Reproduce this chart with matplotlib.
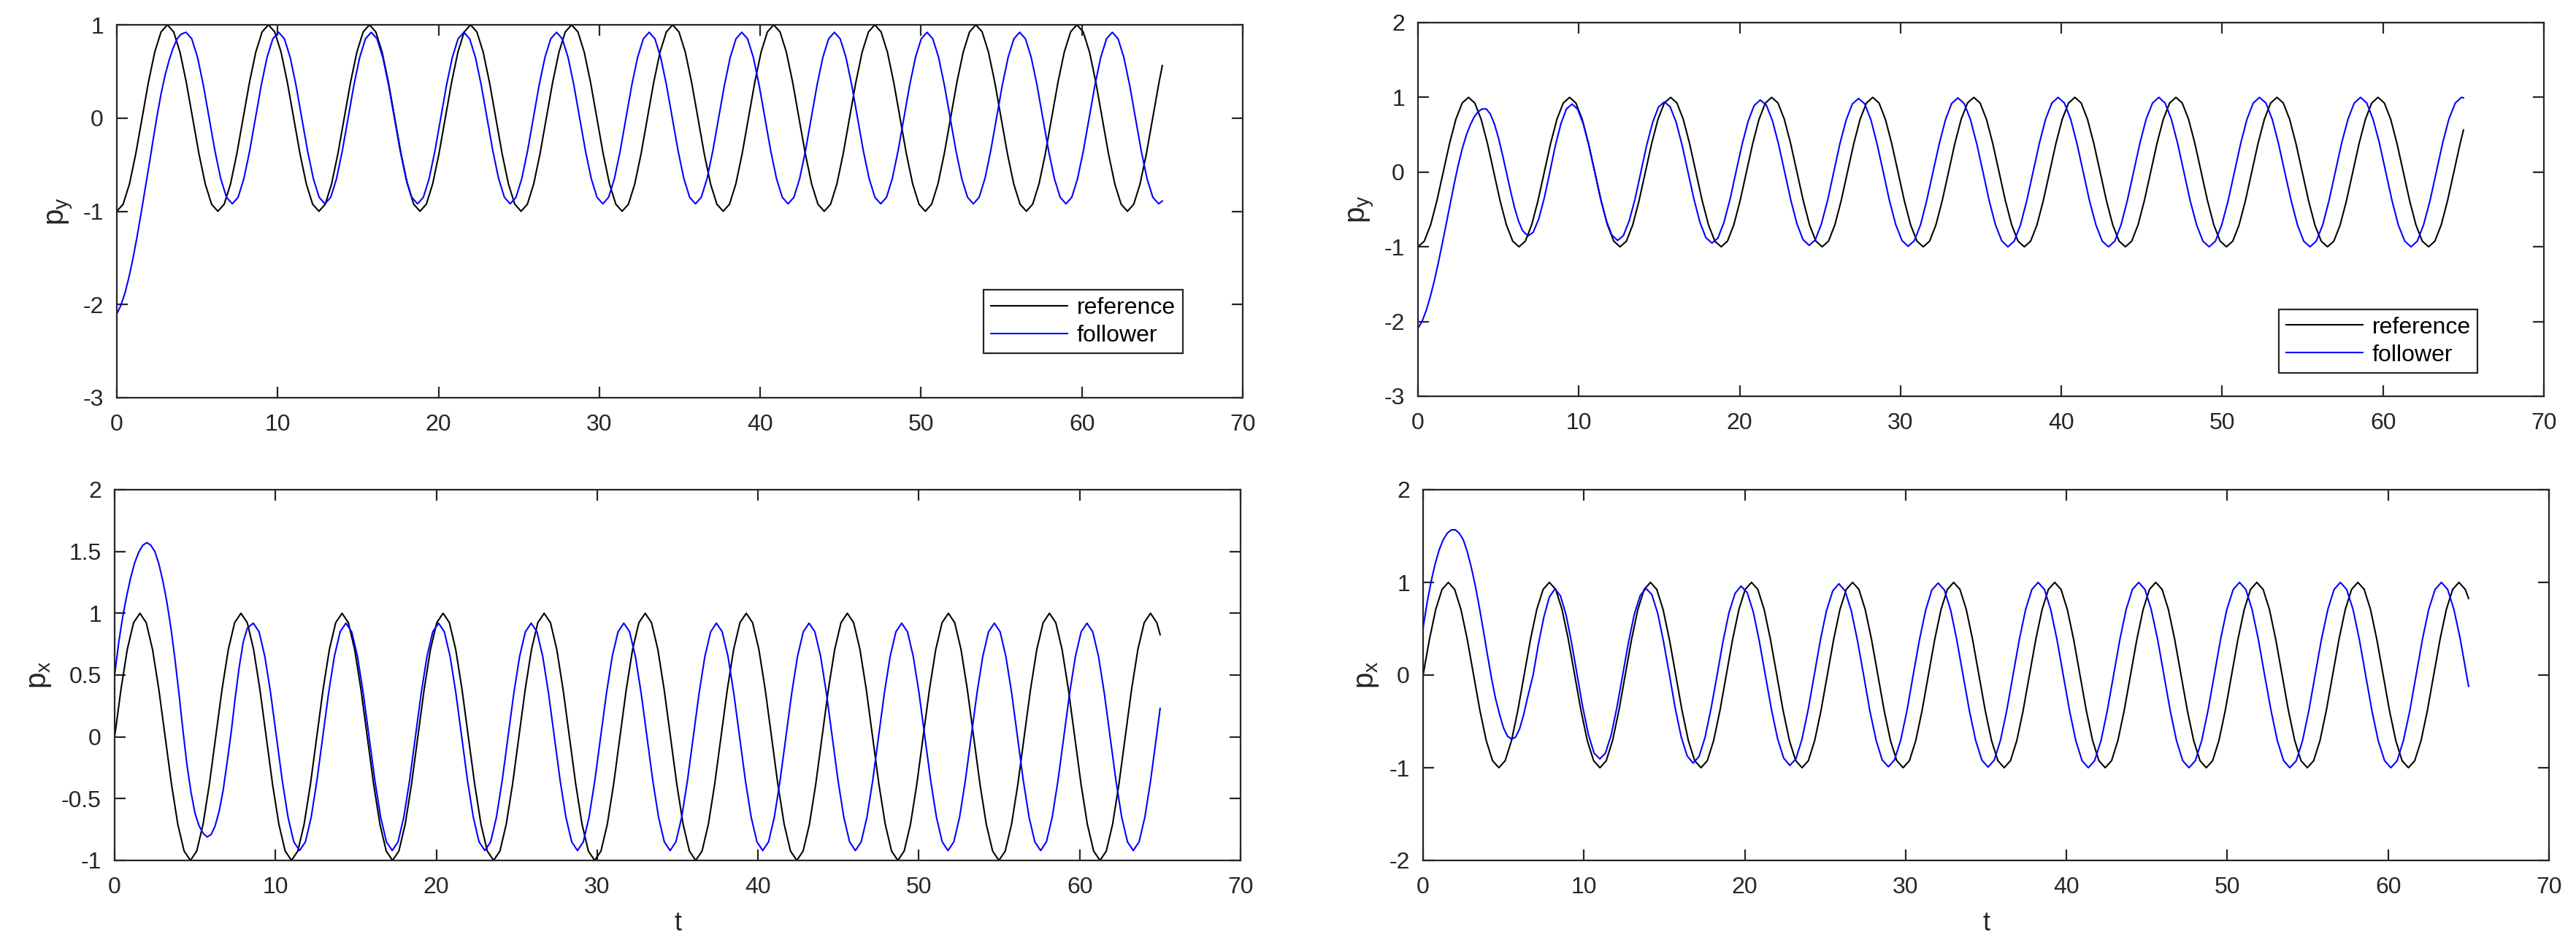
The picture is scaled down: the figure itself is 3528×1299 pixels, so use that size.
import numpy as np
import matplotlib
matplotlib.use("Agg")
import matplotlib.pyplot as plt

# ---------------------------------------------------------------------------
# Data
# ---------------------------------------------------------------------------
T_END = 65.0

# reference signal, sampled every 22.5 deg of phase (pi/8 in t), last entry at T_END
REF_STEP = np.pi / 8
py_ref = [
    -1, -0.924, -0.707, -0.383, 0, 0.383, 0.707, 0.924, 1, 0.924, 0.707, 0.383, 0, -0.383, -0.707, -0.924,
    -1, -0.924, -0.707, -0.383, 0, 0.383, 0.707, 0.924, 1, 0.924, 0.707, 0.383, 0, -0.383, -0.707, -0.924,
    -1, -0.924, -0.707, -0.383, 0, 0.383, 0.707, 0.924, 1, 0.924, 0.707, 0.383, 0, -0.383, -0.707, -0.924,
    -1, -0.924, -0.707, -0.383, 0, 0.383, 0.707, 0.924, 1, 0.924, 0.707, 0.383, 0, -0.383, -0.707, -0.924,
    -1, -0.924, -0.707, -0.383, 0, 0.383, 0.707, 0.924, 1, 0.924, 0.707, 0.383, 0, -0.383, -0.707, -0.924,
    -1, -0.924, -0.707, -0.383, 0, 0.383, 0.707, 0.924, 1, 0.924, 0.707, 0.383, 0, -0.383, -0.707, -0.924,
    -1, -0.924, -0.707, -0.383, 0, 0.383, 0.707, 0.924, 1, 0.924, 0.707, 0.383, 0, -0.383, -0.707, -0.924,
    -1, -0.924, -0.707, -0.383, 0, 0.383, 0.707, 0.924, 1, 0.924, 0.707, 0.383, 0, -0.383, -0.707, -0.924,
    -1, -0.924, -0.707, -0.383, 0, 0.383, 0.707, 0.924, 1, 0.924, 0.707, 0.383, 0, -0.383, -0.707, -0.924,
    -1, -0.924, -0.707, -0.383, 0, 0.383, 0.707, 0.924, 1, 0.924, 0.707, 0.383, 0, -0.383, -0.707, -0.924,
    -1, -0.924, -0.707, -0.383, 0, 0.383,
    0.562,
]
px_ref = [
    0, 0.383, 0.707, 0.924, 1, 0.924, 0.707, 0.383, 0, -0.383, -0.707, -0.924, -1, -0.924, -0.707, -0.383,
    0, 0.383, 0.707, 0.924, 1, 0.924, 0.707, 0.383, 0, -0.383, -0.707, -0.924, -1, -0.924, -0.707, -0.383,
    0, 0.383, 0.707, 0.924, 1, 0.924, 0.707, 0.383, 0, -0.383, -0.707, -0.924, -1, -0.924, -0.707, -0.383,
    0, 0.383, 0.707, 0.924, 1, 0.924, 0.707, 0.383, 0, -0.383, -0.707, -0.924, -1, -0.924, -0.707, -0.383,
    0, 0.383, 0.707, 0.924, 1, 0.924, 0.707, 0.383, 0, -0.383, -0.707, -0.924, -1, -0.924, -0.707, -0.383,
    0, 0.383, 0.707, 0.924, 1, 0.924, 0.707, 0.383, 0, -0.383, -0.707, -0.924, -1, -0.924, -0.707, -0.383,
    0, 0.383, 0.707, 0.924, 1, 0.924, 0.707, 0.383, 0, -0.383, -0.707, -0.924, -1, -0.924, -0.707, -0.383,
    0, 0.383, 0.707, 0.924, 1, 0.924, 0.707, 0.383, 0, -0.383, -0.707, -0.924, -1, -0.924, -0.707, -0.383,
    0, 0.383, 0.707, 0.924, 1, 0.924, 0.707, 0.383, 0, -0.383, -0.707, -0.924, -1, -0.924, -0.707, -0.383,
    0, 0.383, 0.707, 0.924, 1, 0.924, 0.707, 0.383, 0, -0.383, -0.707, -0.924, -1, -0.924, -0.707, -0.383,
    0, 0.383, 0.707, 0.924, 1, 0.924,
    0.827,
]

# start-up part of the followers, read every 0.25 in t from t = 0
TRANS_STEP = 0.25
py_left_transient = [
    -2.10, -2.01, -1.88, -1.71, -1.51, -1.28, -1.03, -0.77, -0.51, -0.24, 0.02, 0.26,
    0.46, 0.62, 0.75, 0.85, 0.90,
]
px_left_transient = [
    0.50, 0.76, 0.97, 1.14, 1.29, 1.41, 1.495, 1.55, 1.572, 1.55, 1.50, 1.40, 1.26, 1.09,
    0.88, 0.63, 0.35, 0.05, -0.23, -0.45, -0.62, -0.72, -0.78, -0.81, -0.79, -0.72, -0.60,
    -0.43, -0.20, 0.04, 0.32, 0.57, 0.77, 0.88,
]
py_right_transient = [
    -2.09, -2.00, -1.86, -1.68, -1.47, -1.23, -0.97, -0.70, -0.43, -0.16, 0.09, 0.31,
    0.49, 0.63, 0.74, 0.81, 0.845, 0.845, 0.776, 0.645, 0.461, 0.238, -0.006, -0.248,
    -0.472, -0.654, -0.783,
]
px_right_transient = [
    0.51, 0.78, 1.01, 1.20, 1.35, 1.46, 1.53, 1.565, 1.568, 1.53, 1.46, 1.33, 1.16, 0.96,
    0.73, 0.48, 0.22, -0.03, -0.25, -0.42, -0.57, -0.66, -0.69, -0.67, -0.58, -0.43, -0.24,
]

# left follower after start-up: sampled every 22.5 deg of its own phase (period 5.76),
# last entry at T_END
LEFT_STEP = 0.35994
py_left_t0 = 4.30
px_left_t0 = 8.62
py_left_steady = [
    0.92, 0.85, 0.65, 0.352, 0, -0.352, -0.65, -0.85, -0.92, -0.85, -0.65, -0.352, 0, 0.352, 0.65, 0.85,
    0.92, 0.85, 0.65, 0.352, 0, -0.352, -0.65, -0.85, -0.92, -0.85, -0.65, -0.352, 0, 0.352, 0.65, 0.85,
    0.92, 0.85, 0.65, 0.352, 0, -0.352, -0.65, -0.85, -0.92, -0.85, -0.65, -0.352, 0, 0.352, 0.65, 0.85,
    0.92, 0.85, 0.65, 0.352, 0, -0.352, -0.65, -0.85, -0.92, -0.85, -0.65, -0.352, 0, 0.352, 0.65, 0.85,
    0.92, 0.85, 0.65, 0.352, 0, -0.352, -0.65, -0.85, -0.92, -0.85, -0.65, -0.352, 0, 0.352, 0.65, 0.85,
    0.92, 0.85, 0.65, 0.352, 0, -0.352, -0.65, -0.85, -0.92, -0.85, -0.65, -0.352, 0, 0.352, 0.65, 0.85,
    0.92, 0.85, 0.65, 0.352, 0, -0.352, -0.65, -0.85, -0.92, -0.85, -0.65, -0.352, 0, 0.352, 0.65, 0.85,
    0.92, 0.85, 0.65, 0.352, 0, -0.352, -0.65, -0.85, -0.92, -0.85, -0.65, -0.352, 0, 0.352, 0.65, 0.85,
    0.92, 0.85, 0.65, 0.352, 0, -0.352, -0.65, -0.85, -0.92, -0.85, -0.65, -0.352, 0, 0.352, 0.65, 0.85,
    0.92, 0.85, 0.65, 0.352, 0, -0.352, -0.65, -0.85, -0.92, -0.85, -0.65, -0.352, 0, 0.352, 0.65, 0.85,
    0.92, 0.85, 0.65, 0.352, 0, -0.352, -0.65, -0.85, -0.92,
    -0.89,
]
px_left_steady = [
    0.92, 0.85, 0.65, 0.352, 0, -0.352, -0.65, -0.85, -0.92, -0.85, -0.65, -0.352, 0, 0.352, 0.65, 0.85,
    0.92, 0.85, 0.65, 0.352, 0, -0.352, -0.65, -0.85, -0.92, -0.85, -0.65, -0.352, 0, 0.352, 0.65, 0.85,
    0.92, 0.85, 0.65, 0.352, 0, -0.352, -0.65, -0.85, -0.92, -0.85, -0.65, -0.352, 0, 0.352, 0.65, 0.85,
    0.92, 0.85, 0.65, 0.352, 0, -0.352, -0.65, -0.85, -0.92, -0.85, -0.65, -0.352, 0, 0.352, 0.65, 0.85,
    0.92, 0.85, 0.65, 0.352, 0, -0.352, -0.65, -0.85, -0.92, -0.85, -0.65, -0.352, 0, 0.352, 0.65, 0.85,
    0.92, 0.85, 0.65, 0.352, 0, -0.352, -0.65, -0.85, -0.92, -0.85, -0.65, -0.352, 0, 0.352, 0.65, 0.85,
    0.92, 0.85, 0.65, 0.352, 0, -0.352, -0.65, -0.85, -0.92, -0.85, -0.65, -0.352, 0, 0.352, 0.65, 0.85,
    0.92, 0.85, 0.65, 0.352, 0, -0.352, -0.65, -0.85, -0.92, -0.85, -0.65, -0.352, 0, 0.352, 0.65, 0.85,
    0.92, 0.85, 0.65, 0.352, 0, -0.352, -0.65, -0.85, -0.92, -0.85, -0.65, -0.352, 0, 0.352, 0.65, 0.85,
    0.92, 0.85, 0.65, 0.352, 0, -0.352, -0.65, -0.85, -0.92, -0.85, -0.65, -0.352, 0,
    0.23,
]

# right follower after start-up (phase locks with a growing lead)
t_right_steady = [
    6.84, 7.17, 7.51, 7.85, 8.20, 8.54, 8.89, 9.23, 9.58, 9.93, 10.28, 10.63, 10.99, 11.34, 11.70, 12.05,
    12.41, 12.77, 13.13, 13.50, 13.86, 14.22, 14.59, 14.95, 15.32, 15.68, 16.05, 16.42, 16.79, 17.16, 17.53, 17.90,
    18.28, 18.65, 19.02, 19.40, 19.77, 20.15, 20.53, 20.90, 21.28, 21.66, 22.04, 22.42, 22.80, 23.18, 23.56, 23.94,
    24.32, 24.70, 25.08, 25.47, 25.85, 26.23, 26.62, 27.00, 27.39, 27.77, 28.16, 28.54, 28.93, 29.31, 29.70, 30.09,
    30.47, 30.86, 31.25, 31.63, 32.02, 32.41, 32.80, 33.18, 33.57, 33.96, 34.35, 34.74, 35.13, 35.51, 35.90, 36.29,
    36.68, 37.07, 37.46, 37.85, 38.24, 38.63, 39.02, 39.41, 39.80, 40.19, 40.58, 40.97, 41.36, 41.75, 42.15, 42.54,
    42.93, 43.32, 43.71, 44.10, 44.49, 44.88, 45.27, 45.67, 46.06, 46.45, 46.84, 47.23, 47.62, 48.01, 48.41, 48.80,
    49.19, 49.58, 49.97, 50.37, 50.76, 51.15, 51.54, 51.93, 52.32, 52.72, 53.11, 53.50, 53.89, 54.29, 54.68, 55.07,
    55.46, 55.85, 56.25, 56.64, 57.03, 57.42, 57.82, 58.21, 58.60, 58.99, 59.38, 59.78, 60.17, 60.56, 60.95, 61.35,
    61.74, 62.13, 62.52, 62.92, 63.31, 63.70, 64.09, 64.49, 64.88,
    65.0,
]
py_right_steady = [
    -0.855, -0.804, -0.626, -0.349, 0, 0.354, 0.650, 0.845, 0.91, 0.841, 0.643, 0.349, 0, -0.349, -0.643, -0.841,
    -0.915, -0.850, -0.654, -0.356, 0, 0.360, 0.665, 0.869, 0.94, 0.873, 0.668, 0.362, 0, -0.364, -0.672, -0.878,
    -0.95, -0.882, -0.675, -0.366, 0, 0.369, 0.681, 0.890, 0.965, 0.896, 0.686, 0.372, 0, -0.375, -0.691, -0.904,
    -0.98, -0.908, -0.695, -0.376, 0, 0.377, 0.696, 0.910, 0.985, 0.915, 0.700, 0.379, 0, -0.379, -0.700, -0.915,
    -0.993, -0.918, -0.702, -0.380, 0, 0.380, 0.702, 0.918, 0.993, 0.918, 0.702, 0.380, 0, -0.380, -0.702, -0.918,
    -1, -0.924, -0.707, -0.383, 0, 0.383, 0.707, 0.924, 1, 0.924, 0.707, 0.383, 0, -0.383, -0.707, -0.924,
    -1, -0.924, -0.707, -0.383, 0, 0.383, 0.707, 0.924, 1, 0.924, 0.707, 0.383, 0, -0.383, -0.707, -0.924,
    -1, -0.924, -0.707, -0.383, 0, 0.383, 0.707, 0.924, 1, 0.924, 0.707, 0.383, 0, -0.383, -0.707, -0.924,
    -1, -0.924, -0.707, -0.383, 0, 0.383, 0.707, 0.924, 1, 0.924, 0.707, 0.383, 0, -0.383, -0.707, -0.924,
    -1, -0.924, -0.707, -0.383, 0, 0.383, 0.707, 0.924, 1,
    0.993,
]
px_right_steady = [
    0, 0.333, 0.626, 0.841, 0.93, 0.855, 0.650, 0.350, 0, -0.349, -0.643, -0.841, -0.905, -0.841, -0.643, -0.349,
    0, 0.352, 0.654, 0.859, 0.935, 0.869, 0.665, 0.360, 0, -0.362, -0.668, -0.873, -0.95, -0.878, -0.672, -0.364,
    0, 0.366, 0.675, 0.882, 0.96, 0.890, 0.681, 0.369, 0, -0.372, -0.686, -0.896, -0.975, -0.904, -0.691, -0.375,
    0, 0.376, 0.695, 0.908, 0.985, 0.910, 0.696, 0.377, 0, -0.379, -0.700, -0.915, -0.99, -0.915, -0.700, -0.379,
    0, 0.380, 0.702, 0.918, 0.993, 0.918, 0.702, 0.380, 0, -0.380, -0.702, -0.918, -0.993, -0.918, -0.702, -0.380,
    0, 0.383, 0.707, 0.924, 1, 0.924, 0.707, 0.383, 0, -0.383, -0.707, -0.924, -1, -0.924, -0.707, -0.383,
    0, 0.383, 0.707, 0.924, 1, 0.924, 0.707, 0.383, 0, -0.383, -0.707, -0.924, -1, -0.924, -0.707, -0.383,
    0, 0.383, 0.707, 0.924, 1, 0.924, 0.707, 0.383, 0, -0.383, -0.707, -0.924, -1, -0.924, -0.707, -0.383,
    0, 0.383, 0.707, 0.924, 1, 0.924, 0.707, 0.383, 0, -0.383, -0.707, -0.924, -1, -0.924, -0.707, -0.383,
    0, 0.383, 0.707, 0.924, 1, 0.924, 0.707, 0.383, 0,
    -0.121,
]

legend_labels = ["reference", "follower"]
x_ticks = [0, 10, 20, 30, 40, 50, 60, 70]
yticks_top_left = [-3, -2, -1, 0, 1]
yticks_top_right = [-3, -2, -1, 0, 1, 2]
yticks_bottom_left = [-1, -0.5, 0, 0.5, 1, 1.5, 2]
yticks_bottom_right = [-2, -1, 0, 1, 2]

# ---------------------------------------------------------------------------
# Assemble time axes
# ---------------------------------------------------------------------------
def uniform(t0, step, n):
    return t0 + step * np.arange(n)


t_ref = np.append(uniform(0.0, REF_STEP, len(py_ref) - 1), T_END)

t_left_py = np.concatenate([uniform(0.0, TRANS_STEP, len(py_left_transient)),
                            uniform(py_left_t0, LEFT_STEP, len(py_left_steady) - 1), [T_END]])
y_left_py = np.concatenate([py_left_transient, py_left_steady])
t_left_px = np.concatenate([uniform(0.0, TRANS_STEP, len(px_left_transient)),
                            uniform(px_left_t0, LEFT_STEP, len(px_left_steady) - 1), [T_END]])
y_left_px = np.concatenate([px_left_transient, px_left_steady])

t_right_py = np.concatenate([uniform(0.0, TRANS_STEP, len(py_right_transient)), t_right_steady])
y_right_py = np.concatenate([py_right_transient, py_right_steady])
t_right_px = np.concatenate([uniform(0.0, TRANS_STEP, len(px_right_transient)), t_right_steady])
y_right_px = np.concatenate([px_right_transient, px_right_steady])

# ---------------------------------------------------------------------------
# Styling
# ---------------------------------------------------------------------------
plt.rcParams["font.family"] = ["Liberation Sans", "DejaVu Sans"]
plt.rcParams["axes.unicode_minus"] = False
plt.rcParams["mathtext.fontset"] = "custom"
plt.rcParams["mathtext.rm"] = "Liberation Sans"
plt.rcParams["mathtext.it"] = "Liberation Sans:italic"

AX_COLOR = "#262626"
BLUE = "#0000ff"
W, H = 3528, 1299

fig = plt.figure(figsize=(W / 100, H / 100), dpi=100)


def rect(x0, y0, x1, y1):
    return [x0 / W, 1 - y1 / H, (x1 - x0) / W, (y1 - y0) / H]


panels = [
    dict(rect=rect(160, 34, 1702, 545), t=t_left_py, y=y_left_py, ref=py_ref, ylim=(-3, 1),
         yticks=yticks_top_left, ylabel=r"$\mathrm{p}_{\mathrm{y}}$", legend=(0.7698, 0.289), xlabel=None),
    dict(rect=rect(1942, 31, 3484, 543), t=t_right_py, y=y_right_py, ref=py_ref, ylim=(-3, 2),
         yticks=yticks_top_right, ylabel=r"$\mathrm{p}_{\mathrm{y}}$", legend=(0.7646, 0.2324), xlabel=None),
    dict(rect=rect(157, 671, 1699, 1179), t=t_left_px, y=y_left_px, ref=px_ref, ylim=(-1, 2),
         yticks=yticks_bottom_left, ylabel=r"$\mathrm{p}_{\mathrm{x}}$", legend=None, xlabel="t"),
    dict(rect=rect(1949, 671, 3491, 1179), t=t_right_px, y=y_right_px, ref=px_ref, ylim=(-2, 2),
         yticks=yticks_bottom_right, ylabel=r"$\mathrm{p}_{\mathrm{x}}$", legend=None, xlabel="t"),
]

for p in panels:
    ax = fig.add_axes(p["rect"])
    ax.plot(t_ref, p["ref"], color="black", lw=1.5, label=legend_labels[0])
    ax.plot(p["t"], p["y"], color=BLUE, lw=1.5, label=legend_labels[1])
    ax.set_xlim(0, 70)
    ax.set_ylim(*p["ylim"])
    ax.set_xticks(x_ticks)
    ax.set_yticks(p["yticks"])
    ax.set_xticklabels([f"{v:g}" for v in x_ticks])
    ax.set_yticklabels([f"{v:g}" for v in p["yticks"]])
    ax.tick_params(axis="both", which="both", direction="in", length=11, width=1.6,
                   top=True, right=True, colors=AX_COLOR, labelsize=23, labelcolor=AX_COLOR)
    ax.tick_params(axis="x", pad=16)
    ax.tick_params(axis="y", pad=13)
    for s in ax.spines.values():
        s.set_linewidth(1.6)
        s.set_color(AX_COLOR)
    ax.set_ylabel(p["ylabel"], fontsize=29, color=AX_COLOR, labelpad=8)
    if p["xlabel"]:
        ax.set_xlabel(p["xlabel"], fontsize=26, color=AX_COLOR, labelpad=12)
    if p["legend"] is not None:
        leg = ax.legend(loc="upper left", bbox_to_anchor=p["legend"], borderaxespad=0,
                        fontsize=23, frameon=True, fancybox=False, framealpha=1,
                        edgecolor=AX_COLOR, handlelength=3.3, handletextpad=0.4,
                        labelspacing=0.25, borderpad=0.3)
        leg.get_frame().set_linewidth(1.6)

fig.savefig("out.png", dpi=100)
